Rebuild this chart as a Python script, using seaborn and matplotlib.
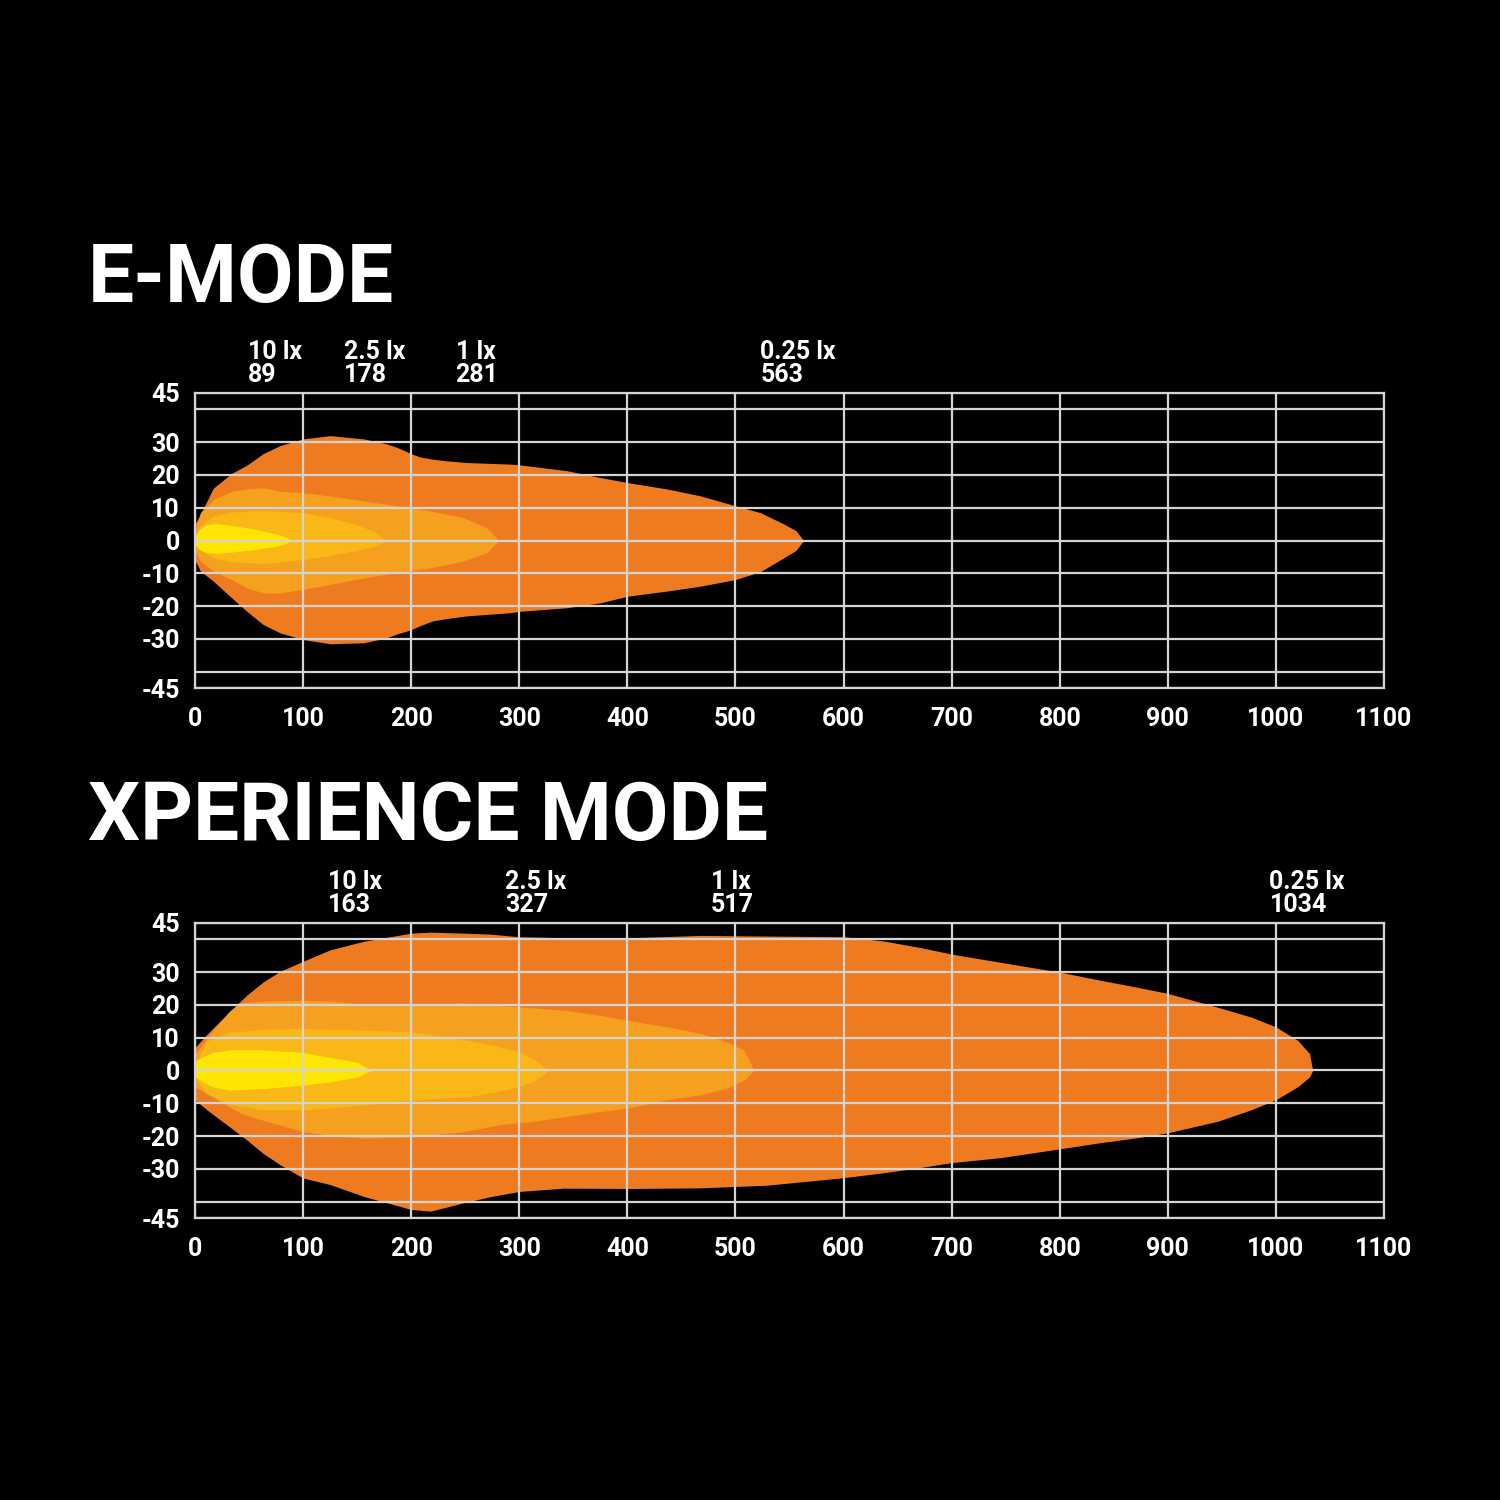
import matplotlib
matplotlib.use("Agg")
import matplotlib.pyplot as plt
import matplotlib.transforms as mtransforms
import seaborn as sns

# Isolux levels and reach (m) shown above each panel
lux_levels = ["10", "2.5", "1", "0.25"]
e_reach = [89, 178, 281, 563]
x_reach = [163, 327, 517, 1034]
level_colors = ["#FFE600", "#F9B815", "#F5A01F", "#EF7B21"]

# E-MODE contours: distance (m), upper and lower spread (m)
e_x_025 = [0, 5, 17, 34, 48, 63, 79, 100, 125, 156, 177, 187, 200, 208, 220, 233, 251, 292, 300, 344, 375, 400, 437, 468, 500, 523, 545, 556, 563]
e_up_025 = [5, 8, 16, 20.5, 23, 26.5, 29, 31, 32, 31, 29.5, 28.4, 26.5, 25.5, 24.8, 24.3, 23.8, 23.3, 23.1, 21.3, 19.2, 17.7, 15.7, 13.6, 10.6, 8.5, 5, 3, 0]
e_lo_025 = [-6, -9.3, -12.4, -17.5, -21.6, -25.6, -28.2, -30.2, -31.5, -31.2, -29.7, -28.5, -27.2, -26, -24.5, -23.8, -23, -22, -21.6, -20.5, -19, -17, -15.4, -13.9, -11.9, -9.5, -5.2, -3, 0]

e_x_1 = [0, 5, 17, 34, 48, 63, 78, 100, 125, 156, 187, 218, 248, 270, 281]
e_up_1 = [3, 8.5, 12.5, 15, 15.7, 16.1, 15.1, 14.6, 13.6, 12.1, 10.6, 9, 7, 3.9, 0]
e_lo_1 = [-3, -6.3, -9.3, -11.9, -14.4, -16, -16, -14.9, -13.4, -11.4, -9.8, -8.3, -6.3, -3.7, 0]

e_x_25 = [0, 3, 17, 33, 63, 100, 125, 150, 165, 178]
e_up_25 = [1, 4, 7.5, 8.7, 9.2, 8.5, 7, 4.8, 2.8, 0]
e_lo_25 = [-1, -2.7, -5.2, -6.5, -7, -5.8, -4.5, -3, -1.8, 0]

e_x_10 = [0, 3, 10, 20, 35, 57, 75, 85, 89]
e_up_10 = [1, 3, 4.8, 5.2, 4.6, 3.4, 2, 1, 0]
e_lo_10 = [-1, -2.5, -3.6, -3.9, -3.5, -2.7, -1.8, -0.8, 0]

# XPERIENCE MODE contours
x_x_025 = [0, 11, 32, 48, 63, 79, 100, 125, 156, 200, 218, 248, 273, 300, 341, 403, 468, 529, 600, 637, 671, 700, 745, 800, 838, 870, 900, 946, 977, 1000, 1020, 1031, 1034]
x_up_025 = [7, 11, 18, 23, 27, 30.3, 33.3, 36.8, 39.4, 41.9, 42.2, 41.9, 41.6, 40.8, 40.5, 40.5, 41.2, 41, 40.8, 39.5, 37.5, 35.5, 33, 30, 27.5, 25.5, 23.5, 19.3, 16.3, 13.3, 9.2, 5.2, 0]
x_lo_025 = [-9, -12, -17.2, -21.2, -25.3, -28.8, -32.8, -34.8, -38.4, -42.4, -42.9, -40.4, -38.5, -36.9, -35.9, -36, -35.8, -35, -32.7, -31.2, -29.6, -28.1, -26.6, -23.9, -22, -20.6, -19, -15.5, -12, -8.9, -5, -2, 0]

x_x_1 = [0, 16, 32, 42, 63, 100, 125, 156, 200, 248, 282, 313, 344, 375, 400, 437, 468, 492, 508, 517]
x_up_1 = [5, 12, 18.1, 20.6, 21.2, 21.4, 21.2, 20.2, 19.9, 20.6, 19.8, 19.1, 18.3, 16.8, 15.3, 13.3, 11.3, 8.7, 6.2, 0]
x_lo_1 = [-5, -8.1, -11.1, -13, -15.2, -18.7, -19.7, -20.7, -20.2, -18.7, -16.5, -15.5, -14, -12.5, -11.5, -8.9, -7.4, -5.4, -2.9, 0]

x_x_25 = [0, 11, 32, 63, 100, 125, 156, 200, 252, 279, 300, 315, 327]
x_up_25 = [2, 9, 11.6, 12.6, 12.8, 12.6, 12.3, 11.8, 9.2, 7.5, 5.7, 3.2, 0]
x_lo_25 = [-2, -7, -10.3, -12, -12, -11.5, -10.5, -9, -8, -6.5, -4.9, -3, 0]

x_x_10 = [0, 16, 32, 63, 100, 125, 150, 163]
x_up_10 = [3, 5.5, 6.3, 6.3, 5.5, 4, 2.5, 0]
x_lo_10 = [-2, -5, -6, -5.5, -4.5, -3.5, -2, 0]

y_ticks = [-45, -40, -30, -20, -10, 0, 10, 20, 30, 40, 45]
y_labels = ["-45", "", "-30", "-20", "-10", "0", "10", "20", "30", "", "45"]
x_ticks = list(range(0, 1101, 100))

sns.set_theme(style="dark")
plt.rcParams["font.family"] = ["Roboto", "DejaVu Sans"]

grid_col = "#d4d4d4"


def draw_panel(ax, contours, reach):
    ax.set_facecolor("black")
    # widest contour first so brighter ones sit on top
    for (xs, up, lo), col in reversed(list(zip(contours, level_colors))):
        ax.fill_between(xs, lo, up, color=col, linewidth=0, zorder=1)
    ax.set_xlim(0, 1100)
    ax.set_ylim(-45, 45)
    ax.set_xticks(x_ticks)
    ax.set_xticklabels([str(t) for t in x_ticks])
    ax.set_yticks(y_ticks)
    ax.set_yticklabels(y_labels)
    ax.set_axisbelow(False)
    ax.grid(True, color=grid_col, linewidth=1.6, zorder=3)
    for s in ax.spines.values():
        s.set_visible(True)
        s.set_color(grid_col)
        s.set_linewidth(1.6)
    ax.tick_params(axis="both", colors=grid_col, length=7, width=1.6,
                   direction="out", labelcolor="white", labelsize=18)
    ax.tick_params(axis="x", pad=7)
    ax.tick_params(axis="y", pad=4)
    for lab in ax.get_xticklabels() + ax.get_yticklabels():
        lab.set_fontweight("semibold")
    trans = mtransforms.blended_transform_factory(ax.transData, ax.transAxes)
    for lux, dist in zip(lux_levels, reach):
        ax.annotate(f"{lux} lx\n{dist}", xy=(dist - 40, 1.0), xycoords=trans,
                    xytext=(0, 4), textcoords="offset points",
                    ha="left", va="bottom", color="white", fontsize=18,
                    fontweight="semibold", linespacing=0.95)


fig = plt.figure(figsize=(15, 15), dpi=100, facecolor="black")
ax_e = fig.add_axes([0.13, 0.5413, 0.7927, 0.1967])
ax_x = fig.add_axes([0.13, 0.188, 0.7927, 0.1967])

draw_panel(ax_e, [(e_x_10, e_up_10, e_lo_10), (e_x_25, e_up_25, e_lo_25),
                  (e_x_1, e_up_1, e_lo_1), (e_x_025, e_up_025, e_lo_025)], e_reach)
draw_panel(ax_x, [(x_x_10, x_up_10, x_lo_10), (x_x_25, x_up_25, x_lo_25),
                  (x_x_1, x_up_1, x_lo_1), (x_x_025, x_up_025, x_lo_025)], x_reach)

fig.text(0.0587, 0.7987, "E-MODE", color="white", fontsize=59,
         fontweight="bold", ha="left", va="baseline")
fig.text(0.0587, 0.44, "XPERIENCE MODE", color="white", fontsize=59,
         fontweight="bold", ha="left", va="baseline")

fig.savefig("out.png", dpi=100, facecolor="black")
